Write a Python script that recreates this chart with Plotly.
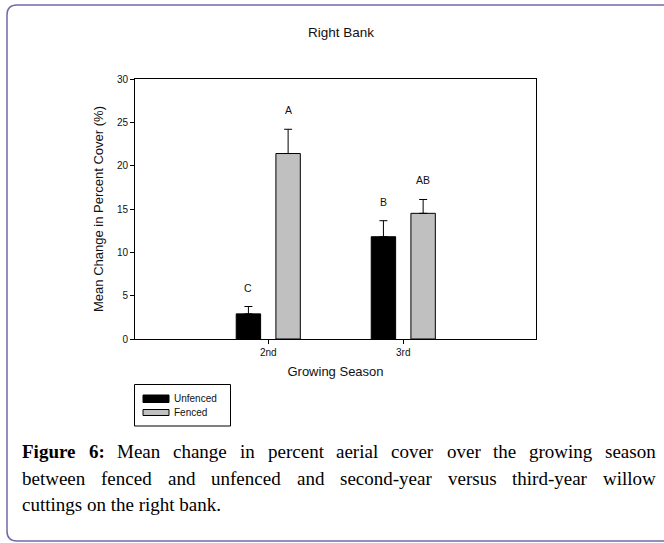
import plotly.graph_objects as go

# ---------------- data ----------------
categories = ["2nd", "3rd"]
unfenced = [2.9, 11.8]
unfenced_err = [0.85, 1.85]
fenced = [21.4, 14.5]
fenced_err = [2.8, 1.6]
letters_unfenced = ["C", "B"]
letters_fenced = ["A", "AB"]
y_ticks = [0, 5, 10, 15, 20, 25, 30]

title_text = "Right Bank"
x_title = "Growing Season"
y_title = "Mean Change in Percent Cover (%)"
legend_names = ["Unfenced", "Fenced"]
caption_lines = [
    "Figure 6: Mean change in percent aerial cover over the growing season",
    "between fenced and unfenced and second-year versus third-year willow",
    "cuttings on the right bank.",
]

# ---------------- layout geometry ----------------
FW, FH = 664, 543
L, R, T, B = 135, 536, 79, 339
PW, PH = R - L, B - T

def px(x):
    return (x - L) / PW

def py(y):
    return (B - y) / PH

SANS = "Liberation Sans, Arial, sans-serif"
SERIF = "Liberation Serif, Times New Roman, serif"
BAR_GAP = 0.412
GROUP_GAP = 0.385
X_RANGE = [-0.987, 1.983]

fig = go.Figure()
fig.add_trace(go.Bar(
    x=categories, y=unfenced, name=legend_names[0],
    marker=dict(color="#000000", line=dict(color="#000000", width=1)),
    error_y=dict(type="data", symmetric=False, array=unfenced_err,
                 arrayminus=[0] * len(unfenced), color="#000000",
                 thickness=1, width=4),
    showlegend=False,
))
fig.add_trace(go.Bar(
    x=categories, y=fenced, name=legend_names[1],
    marker=dict(color="#c0c0c0", line=dict(color="#000000", width=1)),
    error_y=dict(type="data", symmetric=False, array=fenced_err,
                 arrayminus=[0] * len(fenced), color="#000000",
                 thickness=1, width=4),
    showlegend=False,
))

annotations = []
# significance letters above the error bars
slot = (1 - BAR_GAP) / 2
for i, cat in enumerate(categories):
    for off, vals, errs, labs in ((-slot / 2, unfenced, unfenced_err, letters_unfenced),
                                  (slot / 2, fenced, fenced_err, letters_fenced)):
        annotations.append(dict(
            x=i + off, y=vals[i] + errs[i], xref="x", yref="y",
            text=labs[i], showarrow=False, yanchor="middle", yshift=19,
            font=dict(family=SANS, size=10.5, color="#111111"),
        ))

# title
annotations.append(dict(
    x=px(341), y=py(33), xref="paper", yref="paper", text=title_text,
    showarrow=False, xanchor="center", yanchor="middle",
    font=dict(family=SANS, size=13.5, color="#111111"),
))

# legend (drawn manually to match the wide swatches)
shapes = []
shapes.append(dict(type="rect", xref="paper", yref="paper",
                   x0=px(134.5), x1=px(230.5), y0=py(384.5), y1=py(426),
                   line=dict(color="#000000", width=1), fillcolor="#ffffff"))
swatch_y = [(395, 402.5), (409.5, 415.5)]
swatch_col = ["#000000", "#c0c0c0"]
for (ya, yb), col, name in zip(swatch_y, swatch_col, legend_names):
    shapes.append(dict(type="rect", xref="paper", yref="paper",
                       x0=px(143), x1=px(169), y0=py(ya), y1=py(yb),
                       line=dict(color="#000000", width=1), fillcolor=col))
    annotations.append(dict(
        x=px(174), y=py((ya + yb) / 2), xref="paper", yref="paper",
        text=name, showarrow=False, xanchor="left", yanchor="middle",
        borderpad=0, borderwidth=0,
        font=dict(family=SANS, size=10, color="#111111"),
    ))

# outer rounded frame
fx0, fy0, fx1, fy1, rad = 7, 5, 690, 541, 10
rx, ry = rad / PW, rad / PH
X0, X1, Y0, Y1 = px(fx0), px(fx1), py(fy0), py(fy1)
path = (f"M {X0 + rx},{Y0} L {X1 - rx},{Y0} Q {X1},{Y0} {X1},{Y0 - ry} "
        f"L {X1},{Y1 + ry} Q {X1},{Y1} {X1 - rx},{Y1} "
        f"L {X0 + rx},{Y1} Q {X0},{Y1} {X0},{Y1 + ry} "
        f"L {X0},{Y0 - ry} Q {X0},{Y0} {X0 + rx},{Y0} Z")
shapes.append(dict(type="path", xref="paper", yref="paper", path=path,
                   line=dict(color="#6f6aa8", width=1.5)))

# caption: justified text (Times metrics)
REG = {" ": 250, "-": 333, ".": 250, ":": 278, "6": 500, "a": 444, "b": 500,
       "c": 444, "d": 500, "e": 444, "f": 333, "g": 500, "h": 500, "i": 278,
       "k": 500, "l": 278, "m": 778, "n": 500, "o": 500, "p": 500, "r": 333,
       "s": 389, "t": 278, "u": 500, "v": 500, "w": 722, "y": 500, "M": 889,
       "F": 556}
BOLD = {"F": 611, "i": 278, "g": 500, "u": 556, "r": 444, "e": 444, "6": 500,
        ":": 333, " ": 250}
CAP_SIZE = 19
CAP_LEFT, CAP_RIGHT = 22, 656
baselines = [457.5, 484, 510]

def width(word, bold):
    table = BOLD if bold else REG
    return sum(table.get(ch, 500) for ch in word) / 1000 * CAP_SIZE

for li, line in enumerate(caption_lines):
    yc = baselines[li] - 0.3 * CAP_SIZE
    words = line.split(" ")
    bold_flags = [li == 0 and wi < 2 for wi in range(len(words))]
    if li < len(caption_lines) - 1:
        widths = [width(w, b) for w, b in zip(words, bold_flags)]
        gap = (CAP_RIGHT - CAP_LEFT - sum(widths)) / (len(words) - 1)
        xcur = CAP_LEFT
        for w, b, wd in zip(words, bold_flags, widths):
            annotations.append(dict(
                x=px(xcur), y=py(yc), xref="paper", yref="paper",
                text=f"<b>{w}</b>" if b else w, showarrow=False,
                xanchor="left", yanchor="middle", borderpad=0, borderwidth=0,
                font=dict(family=SERIF, size=CAP_SIZE, color="#000000"),
            ))
            xcur += wd + gap
    else:
        annotations.append(dict(
            x=px(CAP_LEFT), y=py(yc), xref="paper", yref="paper",
            text=line, showarrow=False, xanchor="left", yanchor="middle",
            borderpad=0, borderwidth=0,
            font=dict(family=SERIF, size=CAP_SIZE, color="#000000"),
        ))

fig.update_layout(
    width=FW, height=FH,
    margin=dict(l=L, r=FW - R, t=T, b=FH - B, autoexpand=False),
    paper_bgcolor="#ffffff", plot_bgcolor="#ffffff",
    barmode="group", bargap=BAR_GAP, bargroupgap=GROUP_GAP,
    showlegend=False,
    annotations=annotations, shapes=shapes,
    font=dict(family=SANS, color="#111111"),
)
fig.update_xaxes(
    type="category", range=X_RANGE, showgrid=False, zeroline=False,
    showline=True, linecolor="#000000", linewidth=1, mirror=True,
    ticks="outside", ticklen=4, tickcolor="#000000",
    tickfont=dict(family=SANS, size=10, color="#111111"),
    title=dict(text=x_title, standoff=9,
               font=dict(family=SANS, size=13, color="#111111")),
)
fig.update_yaxes(
    range=[0, 30], tickvals=y_ticks, showgrid=False, zeroline=False,
    showline=True, linecolor="#000000", linewidth=1, mirror=True,
    ticks="outside", ticklen=4, tickcolor="#000000",
    tickfont=dict(family=SANS, size=10, color="#111111"),
    title=dict(text=y_title, standoff=10,
               font=dict(family=SANS, size=13, color="#111111")),
)

fig.write_html("out.html", config={"displayModeBar": False},
               post_script="document.body.style.margin='0';document.body.style.padding='0';")
